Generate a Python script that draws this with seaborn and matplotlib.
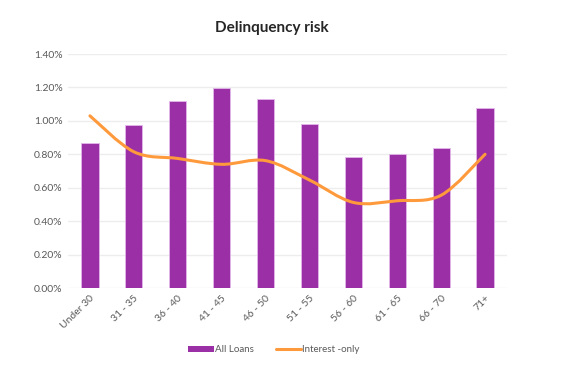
import matplotlib
matplotlib.use("Agg")
import matplotlib.pyplot as plt
from matplotlib.path import Path
from matplotlib.patches import PathPatch
from matplotlib.lines import Line2D
from matplotlib.patches import Patch
import seaborn as sns
import pandas as pd
import numpy as np

categories = ["Under 30", "31 - 35", "36 - 40", "41 - 45", "46 - 50",
              "51 - 55", "56 - 60", "61 - 65", "66 - 70", "71+"]
all_loans = [0.870, 0.974, 1.118, 1.197, 1.133, 0.981, 0.782, 0.800, 0.838, 1.077]
interest_only = [1.03, 0.815, 0.775, 0.740, 0.762, 0.646, 0.512, 0.522, 0.555, 0.800]
y_ticks = [0.0, 0.2, 0.4, 0.6, 0.8, 1.0, 1.2, 1.4]

sns.set_theme(style="white")
plt.rcParams["font.family"] = ["Lato", "DejaVu Sans"]

bar_color = "#9B2FA6"
line_color = "#FF9A3C"
text_color = "#595959"

fig = plt.figure(figsize=(5.65, 3.8), dpi=100)
ax = fig.add_axes([68 / 565, 1 - 288 / 380, (507 - 68) / 565, (288 - 54) / 380])

df = pd.DataFrame({"Age": categories, "All Loans": all_loans})
sns.barplot(data=df, x="Age", y="All Loans", color=bar_color, width=0.39,
            saturation=1, edgecolor="#E3B8EA", linewidth=0.6, ax=ax, zorder=2)

# Smoothed line (Excel-style Catmull-Rom Bezier) through the data points
xs = np.arange(len(categories), dtype=float)
ys = np.array(interest_only, dtype=float)
pts = np.column_stack([xs, ys])
verts = [tuple(pts[0])]
codes = [Path.MOVETO]
n = len(pts)
for i in range(n - 1):
    p0 = pts[i - 1] if i > 0 else pts[i]
    p1 = pts[i]
    p2 = pts[i + 1]
    p3 = pts[i + 2] if i + 2 < n else pts[i + 1]
    c1 = p1 + (p2 - p0) / 6.0
    c2 = p2 - (p3 - p1) / 6.0
    verts += [tuple(c1), tuple(c2), tuple(p2)]
    codes += [Path.CURVE4] * 3
ax.add_patch(PathPatch(Path(verts, codes), facecolor="none", edgecolor=line_color,
                       linewidth=2.2, capstyle="round", zorder=3))

ax.set_ylim(0, 1.4)
ax.set_xlim(-0.5, len(categories) - 0.5)
ax.set_yticks(y_ticks)
ax.set_yticklabels([f"{v:.2f}%" for v in y_ticks], fontsize=7.5, color=text_color)
ax.set_xticks(range(len(categories)))
ax.set_xticklabels(categories, rotation=45, ha="right", rotation_mode="anchor",
                   fontsize=7.5, color=text_color)
ax.tick_params(axis="both", length=0, pad=4)
ax.set_xlabel("")
ax.set_ylabel("")
ax.grid(axis="y", color="#EDEDED", linewidth=1, zorder=0)
ax.set_axisbelow(True)
for s in ax.spines.values():
    s.set_visible(False)

fig.text(272 / 565, 1 - 28 / 380, "Delinquency risk", ha="center", va="center",
         fontsize=11, fontweight="bold", color="#262626")

handles = [Patch(facecolor=bar_color, edgecolor="none"),
           Line2D([0], [0], color=line_color, linewidth=2.2)]
fig.legend(handles, ["All Loans", "Interest -only"], loc="center",
           bbox_to_anchor=(274 / 565, 1 - 350 / 380), ncol=2, frameon=False,
           fontsize=7, labelcolor=text_color, handlelength=2.6,
           handletextpad=0.1, columnspacing=2.3, handleheight=0.6)

fig.savefig("out.png", dpi=100, facecolor="white")
